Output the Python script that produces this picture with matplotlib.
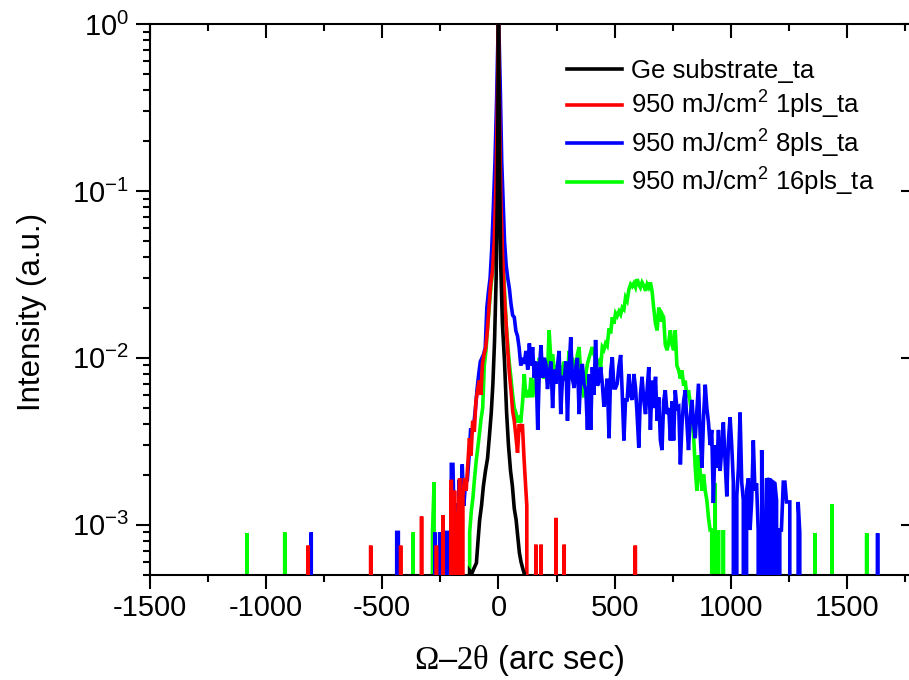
import matplotlib
matplotlib.use('Agg')
import matplotlib.pyplot as plt
from matplotlib.ticker import MultipleLocator, LogLocator, NullFormatter, NullLocator

plt.rcParams['font.family'] = ['Liberation Sans', 'DejaVu Sans']
plt.rcParams['mathtext.fontset'] = 'custom'
plt.rcParams['mathtext.rm'] = 'Liberation Serif'
plt.rcParams['mathtext.it'] = 'Liberation Serif:italic'
plt.rcParams['mathtext.default'] = 'regular'
plt.rcParams['axes.unicode_minus'] = False

# ---------------- data (arc sec, normalised intensity; 0 = no counts) ----------------
ge_x = [-135, -124, -115, -105, -95, -88, -81, -73, -65, -56, -47, -39, -31, -24, -17, -10, -5, -2, 0,
        2, 5, 10, 17, 26, 35, 43, 52, 60, 68, 76, 83, 90, 97, 104, 111, 118]
ge_y = [0, 5.3e-4, 5.1e-4, 5.5e-4, 5.9e-4, 8.0e-4, 1.07e-3, 1.3e-3, 1.7e-3, 2.1e-3, 2.5e-3, 3.4e-3, 4.7e-3,
        7.0e-3, 0.0125, 0.03, 0.09, 0.35, 1.0,
        0.45, 0.12, 0.035, 0.016, 0.0095, 0.0047, 0.0030, 0.0021, 0.0017, 0.00125, 0.00107, 0.00085,
        0.00068, 0.00060, 0.00055, 0.00051, 0]

p1_x = [-828, -820, -812, -558, -550, -542, -429, -421, -413, -339, -331, -323, -275, -267, -259,
        -247, -239, -231, -210, -203, -196, -189, -182, -174, -167, -160, -153, -146, -139, -132,
        -125, -118, -111, -104, -97, -90, -83, -76, -69, -62, -55, -48, -41, -34, -26, -18, -10,
        -5, -2, 0, 2, 5, 10, 18, 26, 33, 39, 47, 54, 61, 68, 75, 82, 89, 96, 103, 110, 117, 122,
        127, 154, 161, 168, 176, 183, 190, 240, 247, 254, 276, 283, 290, 582, 589, 596]
p1_y = [0, 7.5e-4, 0, 0, 7.5e-4, 0, 0, 7.5e-4, 0, 0, 1.12e-3, 0, 0, 7.5e-4, 0,
        0, 1.14e-3, 0, 0, 1.86e-3, 0, 1.6e-3, 0, 9.3e-4, 1.9e-3, 0, 1.5e-3, 1.9e-3, 1.6e-3, 2.3e-3,
        3.3e-3, 2.6e-3, 4.2e-3, 3.6e-3, 5.5e-3, 6.4e-3, 7.3e-3, 6.0e-3, 9.2e-3, 0.0105, 0.0115, 0.0145,
        0.020, 0.027, 0.033, 0.05, 0.12,
        0.3, 0.65, 1.0, 0.6, 0.25, 0.09, 0.04, 0.023, 0.016, 0.0115, 0.0080, 0.0064, 0.0048, 0.0042,
        0.0034, 0.0027, 0.0040, 0.0038, 0.0040, 0.0025, 0.0017, 0.0013,
        0, 0, 7.6e-4, 0, 0, 7.6e-4, 0, 0, 1.1e-3, 0, 0, 7.6e-4, 0, 0, 7.5e-4, 0]

p8_x = [-813, -806, -799, -446, -438, -431, -424, -281, -274, -267, -260, -253, -246, -231, -224,
        -217, -210, -203, -196, -190, -184, -177, -170, -163, -156, -149, -141, -134, -127, -120,
        -113, -106, -99, -92, -85, -78, -71, -64, -57, -50, -43, -36, -29, -22, -15, -8, -3, 0,
        3, 8, 14, 20, 26, 33, 40, 47, 54, 61, 68, 75, 82, 89, 96, 103,
        111, 118, 126, 133, 140, 147, 154, 161, 169, 176, 183, 190, 197, 204, 211, 218, 226, 233,
        240, 247, 254, 261, 268, 276, 283, 290, 297, 304, 311, 318, 326, 333, 340, 347, 354, 361,
        368, 376, 383, 390, 397, 404, 411, 418, 426, 433, 440, 447, 454, 461, 468, 476, 483, 490,
        497, 504, 511, 518, 526, 533, 540, 547, 554, 561, 568, 576, 583, 590, 597, 604, 611, 618,
        626, 633, 640, 647, 654, 661, 668, 676, 683, 690, 697, 704, 711, 718, 726, 733, 740, 747,
        754, 761, 768, 776, 783, 790, 797, 804, 811, 818, 826, 833, 840, 847, 854, 861, 868, 876,
        883, 890, 897, 904, 911, 918, 925, 932, 940, 947, 954, 961, 968, 975, 983, 990, 997, 1004,
        1011, 1018, 1026, 1033, 1040, 1047, 1054, 1061, 1068, 1076, 1083, 1090, 1097, 1104, 1111,
        1118, 1126, 1133, 1140, 1147, 1154, 1161, 1168, 1176, 1183, 1190, 1197, 1204, 1211, 1218,
        1226, 1233, 1240, 1247, 1254, 1261, 1268, 1283, 1290, 1297, 1304, 1625, 1632, 1639]
p8_y = [0, 9e-4, 0, 0, 9e-4, 9e-4, 0, 0, 9e-4, 0, 0, 9e-4, 0, 0, 9e-4,
        9e-4, 0, 2.3e-3, 2.3e-3, 9e-4, 1.35e-3, 0, 1.86e-3, 9e-4, 2.3e-3, 1.3e-3, 1.86e-3, 1.86e-3,
        2.5e-3, 3.7e-3,
        3.7e-3, 4.0e-3, 5.0e-3, 6.5e-3, 8.0e-3, 0.0095, 0.0100, 0.0105, 0.0115, 0.020, 0.025, 0.03,
        0.045, 0.08, 0.15, 0.35, 0.75, 1.0,
        0.8, 0.4, 0.15, 0.085, 0.05, 0.036, 0.03, 0.026, 0.021, 0.018, 0.0175, 0.0145, 0.0135, 0.0115,
        0.0090, 0.0100,
        0.0092, 0.0110, 0.0085, 0.0122, 0.0090, 0.0116, 0.0076, 0.0095, 0.0037, 0.0085, 0.0119, 0.0076,
        0.0100, 0.0092, 0.0065, 0.0080, 0.0095, 0.0050,
        0.0085, 0.0070, 0.0090, 0.0110, 0.0046, 0.0078, 0.0073, 0.0095, 0.0042, 0.0085, 0.0133, 0.0075,
        0.0066, 0.0088, 0.0100, 0.0046, 0.0078, 0.0092,
        0.0070, 0.0064, 0.0037, 0.0080, 0.0037, 0.0088, 0.0060, 0.0128, 0.0068, 0.0073, 0.0088, 0.0070,
        0.0051, 0.0058, 0.0075, 0.0033, 0.0083, 0.0101,
        0.0066, 0.0066, 0.0070, 0.0088, 0.0104, 0.0060, 0.0032, 0.0056, 0.0056, 0.0080, 0.0060, 0.0056,
        0.0080, 0.0066, 0.0045, 0.0029, 0.0060, 0.0077,
        0.0055, 0.0046, 0.0065, 0.0088, 0.0037, 0.0073, 0.0050, 0.0077, 0.0042, 0.0058, 0.0032, 0.0028,
        0.0055, 0.0064, 0.0046, 0.0050, 0.0032, 0.0055,
        0.0032, 0.0064, 0.0050, 0.0051, 0.0023, 0.0040, 0.0055, 0.0064, 0.0041, 0.0028, 0.0045, 0.0056,
        0.0040, 0.0033, 0.0048, 0.0070, 0.0035, 0.0022,
        0.0045, 0.0069, 0.0050, 0.0041, 0.0030, 0.0037, 0.00135, 0.0030, 0.0022, 0.0037, 0.0021, 0.0028,
        0.0041, 0.0025, 0.00148, 0.0032, 0.0044, 0.0030,
        0.0018, 0, 0.0015, 0.0022, 0.0047, 0.0018, 0.0014, 0, 0.0016, 0.0019, 0.00093, 0.0014, 0.0032,
        0.0016, 0.00177,
        0.00093, 0, 0.0028, 0.00093, 0, 0.0019, 0.0018, 0.0019, 0, 0.0018, 0.00177, 0.0014, 0, 0.00093,
        0.00093,
        0.0018, 0.0018, 0.00137, 0.00137, 0.00137, 0, 0, 0, 0.00137, 0.0009, 0, 0, 8.9e-4, 0]

p16_x = [-1089, -1082, -1075, -927, -920, -913, -374, -367, -360, -291, -284, -277, -270,
         -131, -124, -117, -110, -103, -96, -89, -82, -75, -68, -61, -54, -47, -40, -33, -26, -18,
         -10, -5, -2, 0, 2, 5, 10, 18, 26, 33, 40, 47, 54, 61, 68, 75, 82, 89, 96,
         104, 111, 118, 126, 133, 140, 147, 154, 161, 168, 176, 183, 190, 197, 204, 211, 218, 226,
         233, 240, 247, 254, 261, 268, 276, 283, 290, 297, 304, 311, 318, 326, 333, 340, 347, 354,
         361, 368, 376, 383, 390, 397, 404, 411, 418, 426, 433, 440, 447, 454, 461, 468, 476, 483,
         490, 497, 504, 511, 519, 526, 533, 540, 547, 554, 561, 569, 576, 583, 590, 597, 604, 611,
         618, 626, 633, 640, 647, 654, 661, 668, 676, 683, 690, 697, 704, 711, 718, 726, 733, 740,
         747, 754, 761, 768, 776, 783, 790, 797, 804, 811, 818, 826, 833, 840, 847, 854, 861, 868,
         876, 883, 890, 897, 904, 911, 918, 925, 933, 940, 947, 954, 961, 968, 976,
         1355, 1362, 1369, 1428, 1435, 1442, 1578, 1585, 1592]
p16_y = [0, 8.9e-4, 0, 0, 9e-4, 0, 0, 9e-4, 0, 0, 9e-4, 1.8e-3, 0,
         0, 9e-4, 1.2e-3, 1.45e-3, 1.9e-3, 2.4e-3, 2.9e-3, 3.5e-3, 4.3e-3, 5.0e-3, 9.0e-3, 0.011, 0.015,
         0.02, 0.026, 0.033, 0.05,
         0.12, 0.3, 0.65, 1.0, 0.65, 0.3, 0.12, 0.045, 0.025, 0.016, 0.012, 0.0092, 0.0075, 0.0060,
         0.0050, 0.0047, 0.0041, 0.0045, 0.0041,
         0.0055, 0.0080, 0.0058, 0.0064, 0.0058, 0.0076, 0.0058, 0.0068, 0.0080, 0.0070, 0.0100, 0.0085,
         0.0083, 0.0075, 0.0092, 0.0082, 0.0146, 0.0095,
         0.0105, 0.0085, 0.0076, 0.0090, 0.0096, 0.0078, 0.0083, 0.0095, 0.0088, 0.0080, 0.0110, 0.0092,
         0.0100, 0.0090, 0.0088, 0.0105, 0.0116, 0.0080,
         0.0064, 0.0058, 0.0080, 0.0092, 0.0100, 0.0108, 0.0116, 0.0105, 0.0100, 0.0094, 0.0096, 0.0088,
         0.0116, 0.0112, 0.0122, 0.0118, 0.0150, 0.0140,
         0.0175, 0.0160, 0.0185, 0.0178, 0.0190, 0.0182, 0.0200, 0.0195, 0.0230, 0.0220, 0.0255, 0.0276,
         0.0268, 0.0280, 0.0265, 0.0296, 0.0276, 0.0264,
         0.0283, 0.0270, 0.0252, 0.0276, 0.0264, 0.0283, 0.0252, 0.0200, 0.0160, 0.0146, 0.0200, 0.0165,
         0.0183, 0.0175, 0.0120, 0.0111, 0.0125, 0.0146,
         0.0120, 0.0111, 0.0146, 0.0090, 0.0084, 0.0075, 0.0084, 0.0068, 0.0073, 0.0058, 0.0064, 0.0053,
         0.0044, 0.0034, 0.0022, 0.0016, 0.0026, 0.0021,
         0.0016, 0.0020, 0.0016, 0.0014, 0.0011, 0.00093, 0.00093, 0, 0.00177, 0, 0.00093, 0, 0, 0.00093, 0,
         0, 8.9e-4, 0, 0, 1.33e-3, 0, 0, 8.9e-4, 0]

series = [
    (ge_x, ge_y, '#000000', 'Ge substrate_ta', 5),
    (p1_x, p1_y, '#FF0000', '950 mJ/cm$^2$ 1pls_ta', 4),
    (p8_x, p8_y, '#0000FF', '950 mJ/cm$^2$ 8pls_ta', 3),
    (p16_x, p16_y, '#00FF00', '950 mJ/cm$^2$ 16pls_ta', 2),
]

x_major = [-1500, -1000, -500, 0, 500, 1000, 1500]
y_major = [1e-3, 1e-2, 1e-1, 1e0]

# ---------------- figure ----------------
W, H = 909, 680
fig = plt.figure(figsize=(W / 100, H / 100), dpi=100)
L, R, T, B = 150, 908.5, 24, 575
ax = fig.add_axes([L / W, (H - B) / H, (R - L) / W, (B - T) / H])
ax.set_yscale('log', nonpositive='clip')

handles = []
for xs, ys, col, lab, z in series:
    h, = ax.plot(xs, ys, color=col, lw=2.6, label=lab, zorder=z, solid_joinstyle='miter')
    handles.append(h)

ax.set_xlim(-1500, 1765)
ax.set_ylim(5e-4, 1)

ax.set_xticks(x_major)
ax.xaxis.set_minor_locator(MultipleLocator(250))
ax.set_yticks(y_major)
ax.yaxis.set_minor_locator(LogLocator(base=10, subs=range(2, 10)))
ax.yaxis.set_minor_formatter(NullFormatter())

for s in ['left', 'bottom', 'top']:
    ax.spines[s].set_linewidth(1.5)
ax.spines['right'].set_visible(False)
ax.spines['top'].set_visible(False)

ax.tick_params(axis='both', which='major', direction='out', length=10, width=1.5, labelsize=21)
ax.tick_params(axis='both', which='minor', direction='out', length=5, width=1.5)
ax.tick_params(axis='x', which='major', pad=4)
ax.tick_params(axis='y', which='major', pad=5)
ax.tick_params(top=False, right=False, which='both')

# top axis: inward ticks, no labels
sx = ax.secondary_xaxis('top')
sx.set_xticks(x_major)
sx.xaxis.set_minor_locator(MultipleLocator(250))
sx.tick_params(which='major', direction='in', length=10, width=1.5, labeltop=False)
sx.tick_params(which='minor', direction='in', length=5, width=1.5)
sx.spines['top'].set_linewidth(1.5)

# right axis: inward major ticks, no spine
sy = ax.secondary_yaxis('right')
sy.set_yticks(y_major)
sy.yaxis.set_minor_locator(NullLocator())
sy.tick_params(which='major', direction='in', length=6, width=1.5, labelright=False)
sy.spines['right'].set_visible(False)

ax.set_ylabel('Intensity (a.u.)', fontsize=22.5)
ax.yaxis.set_label_coords(-0.136, 0.478)
ax.set_xlabel(r'$\mathrm{\Omega}$–$\mathrm{2\theta}$ (arc sec)', fontsize=23.5, va='top')
ax.xaxis.set_label_coords(0.4865, -0.124)

ax.legend(handles=handles, loc='upper left', bbox_to_anchor=((567 - L) / (R - L), (B - 59) / (B - T)),
          frameon=False, fontsize=18.5, handlelength=2.15, handletextpad=0.35, labelspacing=0.24,
          borderpad=0, borderaxespad=0)

fig.savefig('out.png', dpi=100)
